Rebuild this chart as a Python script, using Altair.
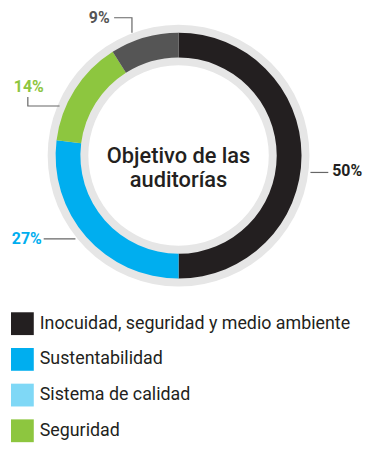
import altair as alt
import pandas as pd

# ---- data ----
categories = ["Inocuidad, seguridad y medio ambiente", "Sustentabilidad", "Seguridad", "Otros"]
values = [50, 27, 14, 9]
labels = ["50%", "27%", "14%", "9%"]

legend_items = ["Inocuidad, seguridad y medio ambiente", "Sustentabilidad", "Sistema de calidad", "Seguridad"]
color_domain = legend_items + ["Otros"]
color_range = ["#231f20", "#00aeef", "#7fd8f6", "#8dc63f", "#555555"]
label_colors = ["#231f20", "#00aeef", "#8dc63f", "#555555"]

center_title = "Objetivo de las\nauditorías"

# ---- layout (annotation placement, pixels in plot area) ----
W, H = 344, 292
label_pos = {
    "50%": (327, 162, "left"),
    "27%": (34, 230, "right"),
    "14%": (21, 77, "center"),
    "9%": (92, 7, "center"),
}
leader_pts = {
    "50%": [(305, 163), (323, 163)],
    "27%": [(36, 230), (68, 230)],
    "14%": [(20, 87), (20, 96), (52, 96)],
    "9%": [(107, 7), (125, 7), (125, 22)],
}

df = pd.DataFrame({"cat": categories, "value": values, "order": range(len(values))})

bg = alt.Chart(pd.DataFrame({"v": [1]})).mark_arc(
    radius=132, radius2=91, theta=0, theta2=6.2832
).encode(color=alt.value("#e6e6e6"))

ring = alt.Chart(df).mark_arc(radius=124, radius2=99).encode(
    theta=alt.Theta("value:Q", stack=True),
    order=alt.Order("order:Q"),
    color=alt.Color(
        "cat:N",
        scale=alt.Scale(domain=color_domain, range=color_range),
        legend=alt.Legend(
            title=None,
            values=legend_items,
            orient="none",
            legendX=3,
            legendY=304,
            symbolType="square",
            symbolSize=529,
            symbolStrokeWidth=0,
            symbolOpacity=1,
            labelFontSize=18,
            labelFont="Roboto",
            labelColor="#231f20",
            labelOffset=6,
            labelLimit=400,
            rowPadding=13,
            padding=0,
        ),
    ),
)

center = alt.Chart(pd.DataFrame({"t": [center_title]})).mark_text(
    font="Roboto", fontSize=22, fontWeight=500, color="#231f20",
    lineBreak="\n", lineHeight=25, align="center", baseline="middle"
).encode(text="t:N")

lab_df = pd.DataFrame({
    "label": labels,
    "px": [label_pos[l][0] for l in labels],
    "py": [label_pos[l][1] for l in labels],
    "al": [label_pos[l][2] for l in labels],
    "col": label_colors,
})

def lab_layer(align):
    sub = lab_df[lab_df["al"] == align]
    return alt.Chart(sub).mark_text(
        font="Roboto", fontSize=16, fontWeight="bold", align=align, baseline="middle"
    ).encode(
        x=alt.X("px:Q", scale=None, axis=None),
        y=alt.Y("py:Q", scale=None, axis=None),
        text="label:N",
        color=alt.Color("col:N", scale=None),
    )

rows = []
for l in labels:
    for i, (x, y) in enumerate(leader_pts[l]):
        rows.append({"grp": l, "i": i, "px": x, "py": y})
lines = alt.Chart(pd.DataFrame(rows)).mark_line(color="#666666", strokeWidth=1.2).encode(
    x=alt.X("px:Q", scale=None, axis=None),
    y=alt.Y("py:Q", scale=None, axis=None),
    detail="grp:N",
    order="i:Q",
)

chart = alt.layer(
    bg, ring, center, lines, lab_layer("left"), lab_layer("right"), lab_layer("center")
).properties(width=W, height=H, padding=0).configure_view(stroke=None)

chart.save("out.html", embed_options={"renderer": "svg", "actions": False})
